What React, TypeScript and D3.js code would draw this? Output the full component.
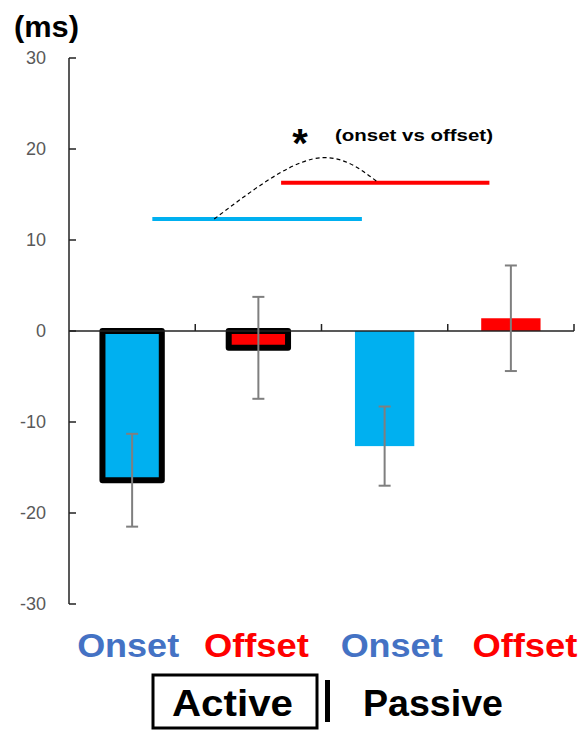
import * as d3 from "d3";

const categories = ["Active Onset", "Active Offset", "Passive Onset", "Passive Offset"];
const catLabels = ["Onset", "Offset", "Onset", "Offset"];
const means = [-16.4, -1.85, -12.65, 1.4];
const errors = [5.1, 5.6, 4.35, 5.8];
const outlined = [true, true, false, false];
const yTicks = [30, 20, 10, 0, -10, -20, -30];

// comparison lines, in category units along x
const compareFrom = [0.66, 1.68];
const compareTo = [2.32, 3.33];
const compareValue = [12.3, 16.3];
// dashed arc between them: category units, value
const arcPts: [number, number][] = [
  [1.15, 12.3],
  [1.93, 18.9],
  [2.45, 16.3],
];

const BLUE = "#00b0f0";
const RED = "#ff0000";
const LABEL_BLUE = "#4472c4";
const FONT = "'Liberation Sans', Arial, sans-serif";

export default function App() {
  const W = 584;
  const H = 730;
  const left = 69;
  const right = 574;

  const y = d3.scaleLinear().domain([-30, 30]).range([604, 58]);
  const x = d3.scaleBand().domain(categories).range([left, right]).paddingInner(0.53).paddingOuter(0.265);
  const u = d3.scaleLinear().domain([0, 4]).range([left, right]);
  const fillOf = (i: number) => (i % 2 === 0 ? BLUE : RED);

  const arcPath = d3
    .line<[number, number]>()
    .x((d) => u(d[0]))
    .y((d) => y(d[1]))
    .curve(d3.curveNatural)(arcPts);

  return (
    <svg width={W} height={H} style={{ position: "absolute", left: 0, top: 0 }} fontFamily={FONT}>
      <rect width={W} height={H} fill="white" />

      <text x={14} y={37} fontSize={29} fontWeight="bold" fill="#000" textLength={65} lengthAdjust="spacingAndGlyphs">
        (ms)
      </text>

      {/* y axis */}
      <line x1={left} x2={left} y1={y(30)} y2={y(-30)} stroke="#222" strokeWidth={1.5} />
      {yTicks.map((t) => (
        <g key={t}>
          <line x1={left} x2={left + 7} y1={y(t)} y2={y(t)} stroke="#222" strokeWidth={1.5} />
          <text x={46} y={y(t)} dy="0.36em" textAnchor="end" fontSize={18} fill="#595959">
            {t}
          </text>
        </g>
      ))}

      {/* bars */}
      {categories.map((c, i) => {
        const v = means[i];
        const top = y(Math.max(0, v));
        const h = Math.abs(y(v) - y(0));
        return (
          <rect
            key={c}
            x={x(c)}
            y={top}
            width={x.bandwidth()}
            height={h}
            fill={fillOf(i)}
            stroke={outlined[i] ? "#000" : "none"}
            strokeWidth={6}
            strokeLinejoin="round"
          />
        );
      })}

      {/* x axis */}
      <line x1={left} x2={right} y1={y(0)} y2={y(0)} stroke="#222" strokeWidth={1.5} />
      {d3.range(1, 5).map((k) => (
        <line key={k} x1={u(k)} x2={u(k)} y1={y(0)} y2={y(0) - 7} stroke="#222" strokeWidth={1.5} />
      ))}

      {/* error bars */}
      {categories.map((c, i) => {
        const cx = (x(c) ?? 0) + x.bandwidth() / 2;
        const hi = y(means[i] + errors[i]);
        const lo = y(means[i] - errors[i]);
        return (
          <g key={c} stroke="#7f7f7f" strokeWidth={2}>
            <line x1={cx} x2={cx} y1={hi} y2={lo} />
            <line x1={cx - 6} x2={cx + 6} y1={hi} y2={hi} />
            <line x1={cx - 6} x2={cx + 6} y1={lo} y2={lo} />
          </g>
        );
      })}

      {/* comparison lines */}
      {compareFrom.map((f, i) => (
        <line
          key={i}
          x1={u(f)}
          x2={u(compareTo[i])}
          y1={y(compareValue[i])}
          y2={y(compareValue[i])}
          stroke={i === 0 ? BLUE : RED}
          strokeWidth={4}
        />
      ))}
      <path d={arcPath ?? ""} fill="none" stroke="#000" strokeWidth={1.2} strokeDasharray="4,3" />
      <text x={300} y={157} textAnchor="middle" fontSize={40} fontWeight="bold" fill="#000">*</text>
      <text x={335} y={141} fontSize={17} fontWeight="bold" fill="#000" textLength={158} lengthAdjust="spacingAndGlyphs">
        (onset vs offset)
      </text>

      {/* category labels */}
      {catLabels.map((l, i) => {
        const cx = (x(categories[i]) ?? 0) + x.bandwidth() / 2;
        const dx = [-4, -2, 7, 14][i];
        return (
          <text
            key={i}
            x={cx + dx}
            y={657}
            textAnchor="middle"
            fontSize={34}
            fontWeight="bold"
            fill={i % 2 === 0 ? LABEL_BLUE : RED}
            textLength={i % 2 === 0 ? 102 : 105}
            lengthAdjust="spacingAndGlyphs"
          >
            {l}
          </text>
        );
      })}

      {/* condition labels */}
      <rect x={153} y={675} width={164} height={53} fill="none" stroke="#000" strokeWidth={3} />
      <text x={172} y={716} fontSize={36} fontWeight="bold" fill="#000" textLength={121} lengthAdjust="spacingAndGlyphs">
        Active
      </text>
      <rect x={325} y={680} width={5} height={42} fill="#000" />
      <text x={363} y={716} fontSize={36} fontWeight="bold" fill="#000" textLength={140} lengthAdjust="spacingAndGlyphs">
        Passive
      </text>
    </svg>
  );
}
